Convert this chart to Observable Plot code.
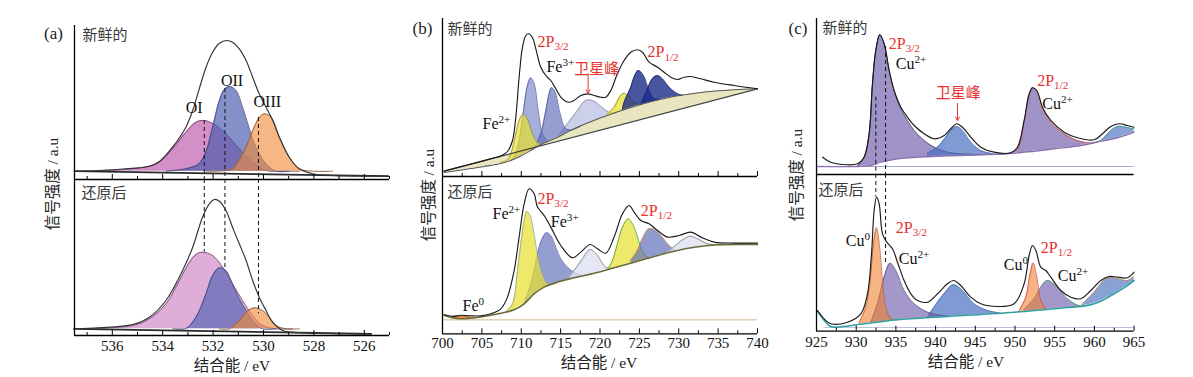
<!DOCTYPE html>
<html><head><meta charset="utf-8">
<script src="https://cdn.jsdelivr.net/npm/d3@7"></script>
<script src="https://cdn.jsdelivr.net/npm/@observablehq/plot@0.6"></script>
<style>
body{margin:0;background:#fff;}
#root{position:relative;width:1193px;height:377px;overflow:hidden;background:#fff;}
.t{position:absolute;white-space:nowrap;transform:translate(-50%,-50%);font-family:"Liberation Serif","Noto Sans CJK SC",serif;color:#222;line-height:1;}
</style></head>
<body><div id="root"></div>
<script>
// ---------------- DATA (binding energy eV, intensity a.u.) ----------------
// Panel (a) O 1s — fresh
const aTopBase = [[537.5,8.3],[525.05,3.3]];
const aTopEnv = [[537.51,8.3],[536.52,9],[535.46,10.7],[534.53,13.3],[534.13,18],[533.61,32.3],[533.08,52.3],[532.81,69],[532.55,90.7],[532.28,112.3],[532.02,127.3],[531.75,136.3],[531.45,139],[531.23,137.3],[530.96,130.7],[530.69,119],[530.43,102.3],[530.17,85.7],[529.9,72.3],[529.63,59],[529.37,42.3],[528.98,22.3],[528.58,10.7],[528.05,5.7],[527.26,4],[525.07,3.3]];
const aTopOI = [[536.5,7.9],[535.46,10.3],[534.53,13.3],[534.13,17.3],[533.61,30.7],[533.08,47.3],[532.68,57.3],[532.35,59],[531.88,54],[531.36,42.3],[530.96,30.7],[530.43,17.3],[529.9,9],[529.24,5.7],[528.58,4.7]];
const aTopOII = [[533.87,6.9],[533.08,10.7],[532.55,16],[532.28,28],[532.02,52.3],[531.75,79],[531.56,89.7],[531.36,93],[531.09,89],[530.83,72.3],[530.56,50.7],[530.3,32.3],[529.9,15.7],[529.5,7.3],[528.98,5]];
const aTopOIII = [[532.28,6.4],[531.88,7.3],[531.23,10.7],[530.96,20],[530.69,32.3],[530.43,49],[530.17,61.7],[529.97,65.7],[529.7,62.3],[529.37,42.3],[528.98,22.3],[528.58,10.7],[528.05,5.7],[527.26,4.3]];
// Panel (a) O 1s — reduced
const aBotBase = [[537.51,6.7],[525.73,1.7]];
const aBotEnv = [[537.51,6.7],[536.52,7.7],[535.19,11],[534.53,18.3],[533.87,35],[533.21,65],[532.81,88.3],[532.42,118.3],[532.15,131.7],[531.95,136],[531.75,134.3],[531.49,125],[531.23,108.3],[530.96,91.7],[530.69,75],[530.43,55],[530.17,38.3],[529.9,25],[529.64,13.3],[529.24,5],[528.58,2.9],[525.73,1.7]];
const aBotOI = [[537.51,6.7],[535.19,10],[534.53,16.7],[533.87,31.7],[533.34,55],[532.94,73.3],[532.68,81],[532.42,83.3],[532.02,80],[531.62,68.3],[531.23,51.7],[530.83,35],[530.43,20],[530.04,10],[529.5,4.5],[528.85,3.1]];
const aBotOII = [[533.6,5.0],[533.08,7],[532.68,18.3],[532.28,41.7],[532.02,60],[531.75,67.7],[531.49,65],[531.23,51.7],[530.96,36.7],[530.69,25],[530.43,15],[530.04,6.5],[529.5,3.5]];
const aBotOIII = [[531.75,4.6],[531.36,6],[530.96,15],[530.69,23.3],[530.37,27.7],[530.04,25],[529.77,18.3],[529.5,10],[529.11,4.5],[528.58,2.9]];
const aDashX = [532.35, 531.53, 530.2];
const aDashTop = [59, 91, 62];
const aDashBot = [83.3, 66.7, 21.7];
const aLabels = [[532.75,72,"OI"],[531.25,99,"OII"],[529.85,78,"OIII"]];
const aMinor = [525,527,529,531,533,535,537];
const aMajor = [526,528,530,532,534,536];

// Panel (b) Fe 2p — fresh
const bTopLin = [[700.2,5.3],[740,87.7]];
const bTopShirley = [[700.2,4],[705.28,10],[707.4,13],[708.67,16],[709.94,20.5],[711.21,26],[712.48,32],[714.17,37.7],[716.71,47.7],[720.1,58.7],[724.33,70],[728.57,78.7],[732.8,84],[737.03,86.7],[740,87.7]];
const bTopEnv = [[700.2,5.5],[703.17,11.5],[705.28,15.9],[706.56,18.7],[707.4,20.5],[708.25,25],[708.89,36],[709.31,59.3],[709.73,99.3],[710.16,129.3],[710.58,141],[710.92,142.7],[711.43,138.7],[711.85,127.7],[712.48,109.3],[713.12,101],[713.75,96],[714.39,87.7],[715.02,79.3],[715.66,75],[716.08,74.3],[716.71,76],[717.56,81],[718.41,82.7],[719.26,81],[720.1,79.3],[720.73,79.3],[721.37,86],[722.21,102.7],[723.06,116],[723.91,124.3],[724.76,126.7],[725.39,124.3],[726.24,114.3],[727.3,109.3],[728.14,104.3],[728.99,99.3],[729.84,97],[730.68,99.3],[731.53,100],[732.8,97.7],[734.49,94.3],[737.03,91],[740,87.7]];
const bTopFe2a = [[707.4,14],[708.25,16.5],[708.67,22.7],[709.31,42.7],[709.73,56],[710.2,62],[710.71,58.7],[711.21,47.7],[711.85,36],[712.48,32]];
const bTopFeA = [[708.67,16],[709.1,19.3],[709.73,36],[710.29,66],[710.79,91],[711.21,98.7],[711.64,92.7],[712.15,66],[712.7,42.7],[713.33,35.5]];
const bTopFeB = [[711.64,28.5],[712.48,42.7],[713.12,66],[713.54,82.7],[713.84,88.7],[714.26,85.3],[714.94,62.7],[715.66,47.7],[716.5,43.5],[717.56,45]];
const bTopSat = [[714.6,39],[715.87,52.7],[717.14,66],[717.98,75],[718.62,76.7],[719.47,74.3],[720.31,68.7],[721.16,64.3],[722.0,63]];
const bTopFe2b = [[720.94,62.5],[721.79,69.3],[722.42,78.7],[722.98,83.3],[723.7,80],[724.33,74.3],[725.18,71.5]];
const bTopFeC = [[722.85,67],[723.06,74],[723.91,89.3],[724.33,99.3],[724.88,106],[725.52,101],[726.24,86],[726.87,77.7],[727.51,77.5]];
const bTopFeD = [[725.18,71.7],[726.03,87.7],[726.66,97.7],[727.3,101],[727.93,97.7],[728.78,89.3],[729.84,82.7],[730.5,81]];
const bTopLabels = [[712.06,135,"2P_{3/2}","red"],[713.2,109.3,"Fe^{3+}","black"],[726.03,124.3,"2P_{1/2}","red"],[705.08,52.7,"Fe^{2+}","black"]];
const bTopSatLabel = [[719.6,107.7,"卫星峰"]];
const bTopArrow = [[718.49,102.7,718.49,83.3]];
// Panel (b) Fe 2p — reduced
const bBotBg = [[700.2,18.3],[701.2,16.2],[702.32,15],[703.5,15.5],[704.86,16.8],[707.4,20.6],[709.1,24],[710.37,30],[711.64,40],[712.91,46.7],[714.6,51.7],[716.71,56],[719.26,60.6],[721.79,66],[724.33,71.6],[726.87,77.3],[729.41,82.6],[731.96,86.6],[734.92,89],[740,89.3]];
const bBotEnv = [[700.2,19.3],[701.2,17.5],[702.32,18.5],[703.5,18],[704.86,17.9],[706.13,20],[707.4,25],[708.25,36.7],[709.1,63.3],[709.73,96.7],[710.37,130],[711.0,145],[711.64,140],[712.06,126.7],[712.91,118.3],[713.75,106.7],[715.02,88.3],[716.5,76],[717.56,81.7],[718.75,89.3],[719.68,85],[720.73,80.6],[721.79,96.7],[722.85,120],[723.7,128.3],[724.33,121.7],[725.18,113.3],[726.24,110],[727.3,103.3],[728.57,96.7],[730.05,98.3],[731.53,101.7],[732.8,96.7],[734.49,91.7],[737.03,90.7],[740,90.7]];
const bBotFe0 = [[701.2,16.2],[701.9,17.4],[702.5,17.8],[703.2,17.2],[703.9,15.8]];
const bBotFe2a = [[708.0,21.8],[708.89,30],[709.52,63.3],[709.94,90],[710.37,113.3],[710.71,122.3],[711.13,118.3],[711.55,103.3],[712.06,80],[712.7,60],[713.33,50],[713.96,48.5]];
const bBotFe3a = [[710.37,30],[711.21,50],[711.85,71.6],[712.48,91.6],[713.2,101],[713.75,98.3],[714.39,86.6],[715.02,75],[715.87,66.6],[716.71,61.6],[717.98,58.3],[719.26,60.6]];
const bBotSat1 = [[715.87,55],[716.71,63.3],[717.77,75],[718.75,84.3],[719.68,78.3],[720.73,66.6],[721.79,66]];
const bBotFe2b = [[720.94,64.2],[721.58,73.3],[722.21,90],[722.85,106.6],[723.61,115],[724.33,106.6],[724.97,91.6],[725.6,80],[726.24,75.5],[726.87,77.3]];
const bBotFe3b = [[723.91,73.3],[724.76,83.3],[725.39,95],[726.24,105],[727.09,103.3],[727.93,96.6],[728.78,88.3],[729.62,83.3]];
const bBotSat2 = [[728.57,81.5],[729.84,90],[730.68,95],[731.45,97.6],[732.38,95],[733.65,90],[735.34,89]];
const bBotFloor = 14;
const bBotLabels = [[702.54,28.3,"Fe^{0}","black"],[706.35,120,"Fe^{2+}","black"],[712.06,135,"2P_{3/2}","red"],[713.75,111.6,"Fe^{3+}","black"],[725.18,123.3,"2P_{1/2}","red"]];
const bMinor = [702.5,707.5,712.5,717.5,722.5,727.5,732.5,737.5];
const bMajor = [700,705,710,715,720,725,730,735,740];

// Panel (c) Cu 2p — fresh
const cTopBg = [[925,8],[930.16,8],[931.84,9],[933.1,12.3],[935.2,15.7],[939.39,18],[945.69,19.7],[949.89,21.3],[952.41,23.3],[954.93,25.7],[958.29,29],[960.81,33.3],[962.91,36.7],[965,42.3]];
const cTopFloor = 8;
const cTopEnv = [[925.76,17.3],[926.8,12.3],[928.9,9.7],[930.16,10.7],[931,17.3],[931.63,40.7],[932.05,90.7],[932.47,124],[932.97,139.7],[933.52,130.7],[934.15,104],[934.78,84],[935.62,67.3],[936.46,57.3],[937.3,49],[938.56,40.7],[939.81,35.7],[941.07,39],[941.91,45.7],[942.63,50.7],[943.38,47.3],[944.43,37.3],[945.69,27.3],[947.37,22.3],[949.47,21.8],[950.31,27.3],[951.15,54],[951.78,80.7],[952.2,86.7],[952.75,84],[953.46,67.3],[954.51,54],[956.19,42.3],[957.87,36.7],[959.97,34.7],[961.02,40.7],[962.07,48],[963.12,50.7],[964.17,49],[965,47.3]];
const cTopCu2a = [[930.16,8.5],[931,17.3],[931.63,40.7],[932.05,90.7],[932.47,124],[932.97,139.7],[933.52,130.7],[934.15,104],[934.78,83.3],[935.62,65.7],[936.46,54],[937.3,44],[938.56,34],[939.81,27.3],[941.49,22.3],[943.59,20.5],[946.53,20],[949.89,21.3]];
const cTopSat = [[938.98,21.5],[940.24,27.3],[941.28,37.3],[942.12,45.7],[942.63,48],[943.38,44],[944.43,32.3],[945.69,24],[947.37,20.3]];
const cTopCu2b = [[949.47,21],[950.31,25.7],[951.15,52.3],[951.78,79],[952.2,86.7],[952.75,83.3],[953.46,65.7],[954.51,52.3],[956.19,40.7],[957.87,34],[959.55,31.5],[960.81,33.3]];
const cTopHump = [[959.55,31],[960.81,34],[961.86,42.3],[962.91,48],[963.96,47.3],[965,45.7]];
const cTopLabels = [[934.1,131,"2P_{3/2}","red"],[934.99,111,"Cu^{2+}","black"],[952.8,94,"2P_{1/2}","red"],[953.43,71,"Cu^{2+}","black"]];
const cTopSatLabel = [[942.86,81,"卫星峰"]];
const cTopArrow = [[942.76,71,942.76,54]];
const cDashX = [932.47, 933.7];
const cDashTop = [77.3, 128];
const cDashBot = [134, 67.3];
// Panel (c) Cu 2p — reduced
const cBotBg = [[925.13,20],[925.96,11],[926.8,4.7],[931,7.4],[935.2,11.4],[941.49,14.7],[949.89,19],[956.19,23.4],[959.13,25.7],[960.81,30],[962.49,37.4],[963.74,43.4],[965,50.7]];
const cBotFloor = 3.7;
const cBotEnv = [[925.13,20.7],[925.96,12.3],[926.8,7.4],[928.9,9],[930.58,17.4],[931.42,37.4],[931.93,77.4],[932.26,120.7],[932.56,134],[932.89,127.4],[933.31,97.4],[933.85,89],[934.57,82.4],[935.2,69],[936.03,50.7],[936.88,37.4],[937.72,30.7],[938.98,29],[940.24,37.4],[941.49,47.4],[942.25,50.7],[943.17,45.7],[944.43,34],[945.69,27.4],[947.8,24.7],[949.89,27.4],[951.15,47.4],[951.78,75.7],[952.2,85.7],[952.63,80.7],[953.25,64],[953.88,60.7],[954.51,54],[955.77,40.7],[957.03,34],[958.29,32.4],[959.55,40.7],[960.81,50.7],[961.86,54.7],[962.91,54],[964.17,53.4],[965,59]];
const cBotCu0a = [[930.37,8.8],[931.21,24],[931.76,50.7],[932.18,87.4],[932.56,103.4],[932.93,85.7],[933.31,50.7],[933.73,24],[934.36,12.4],[935.0,11.2]];
const cBotCu2a = [[931.84,8.5],[932.68,27.4],[933.52,54],[934.27,68],[934.99,60.7],[936.03,40.7],[937.3,27.4],[938.98,19],[940.66,15.7],[942,15]];
const cBotSat = [[938.98,14],[939.81,24],[941.07,37.4],[942.25,46.4],[943.38,40.7],[944.85,27.4],[946.53,20.7],[948.22,18]];
const cBotCu0b = [[950.52,20.7],[951.36,34],[951.9,57.4],[952.29,68],[952.71,55.7],[953.25,30.7],[953.88,21.4]];
const cBotCu2b = [[951.15,21.4],[952.41,32.4],[953.25,44],[954.09,50.7],[955.14,45.7],[956.61,32.4],[958.29,24.5],[959.55,26]];
const cBotHump = [[958.29,25],[959.97,39],[961.65,53.4],[962.91,52.4],[964.17,50.7],[965,54.7]];
const cBotLabels = [[928.69,90.7,"Cu^{0}","black"],[934.99,103.7,"2P_{3/2}","red"],[935.36,72.7,"Cu^{2+}","black"],[948.59,66.7,"Cu^{0}","black"],[953.25,83.7,"2P_{1/2}","red"],[955.39,55.7,"Cu^{2+}","black"]];
const cMinor = [927.5,932.5,937.5,942.5,947.5,952.5,957.5,962.5];
const cMajor = [925,930,935,940,945,950,955,960,965];

// ---------------- RENDERING ----------------
const root = document.getElementById("root");
const SERIF = "'Liberation Serif','Times New Roman',serif";
const CJK = "'Noto Sans CJK SC','Noto Sans',sans-serif";
const RED = "#e8312f";
const C = "catmull-rom";
const rows = a => a.map(([x, y]) => ({x, y}));
function interp(arr, x) {
  if (x <= arr[0][0]) return arr[0][1];
  for (let i = 1; i < arr.length; i++) if (x <= arr[i][0]) {
    const [x0, y0] = arr[i - 1], [x1, y1] = arr[i];
    return y0 + (y1 - y0) * (x - x0) / (x1 - x0);
  }
  return arr[arr.length - 1][1];
}
function peak(arr, bg, fill, op, stroke, sw = 0.8) {
  const r = arr.map(([x, y]) => { const b = interp(bg, x); return {x, y: Math.max(y, b), b}; });
  return [
    Plot.areaY(r, {x: "x", y1: "b", y2: "y", fill, fillOpacity: op, curve: C}),
    Plot.line(r, {x: "x", y: "y", stroke, strokeWidth: sw, curve: C})
  ];
}
function envelope(arr, stroke = "#1a1a1a") {
  return Plot.line(rows(arr), {x: "x", y: "y", stroke, strokeWidth: 1.15, curve: C});
}
function labels(arr, fontSize = 16, anchor = "start") {
  const r = arr.map(([x, y, text, c]) => ({x, y, text, c: c === "red" ? RED : "#111"}));
  return Plot.text(r, {x: "x", y: "y", text: "text", fill: "c", fontSize, fontFamily: SERIF, textAnchor: anchor});
}
function cjkLabel(arr) {
  const r = arr.map(([x, y, text]) => ({x, y, text}));
  return Plot.text(r, {x: "x", y: "y", text: "text", fill: RED, fontSize: 15, fontFamily: CJK});
}
function arrow(arr) {
  const r = arr.map(([x1, y1, x2, y2]) => ({x1, y1, x2, y2}));
  return Plot.arrow(r, {x1: "x1", y1: "y1", x2: "x2", y2: "y2", stroke: RED, strokeWidth: 1, headLength: 6});
}
function state(text, dx, dy) {
  return Plot.text([text], {text: d => d, frameAnchor: "top-left", dx, dy, textAnchor: "start", lineAnchor: "middle", fontFamily: CJK, fontSize: 15, fill: "#3a3a3a"});
}
function axes(xd, H, {minor = [], major = [], ticks = true, labels = false, pad = 4}) {
  const ms = [
    Plot.ruleY([0], {x1: xd[0], x2: xd[1], stroke: "#000", strokeWidth: 1.3}),
    Plot.ruleX([xd[0]], {y1: 0, y2: H, stroke: "#000", strokeWidth: 1.3})
  ];
  if (ticks) {
    ms.push(Plot.ruleX(minor, {y1: 0, y2: 3, stroke: "#000", strokeWidth: 1}));
    ms.push(Plot.ruleX(major, {y1: 0, y2: 5, stroke: "#000", strokeWidth: 1}));
  }
  if (labels) ms.push(Plot.axisX(major, {tickSize: 0, tickPadding: pad, fontSize: 15, label: null, tickFormat: d => String(d)}));
  return ms;
}
function dashes(xs, y1s, y2s) {
  const r = xs.map((x, i) => ({x, y1: y1s[i], y2: y2s[i]}));
  return Plot.ruleX(r, {x: "x", y1: "y1", y2: "y2", stroke: "#111", strokeWidth: 1, strokeDasharray: "4,3"});
}
function richify(svg) {
  svg.querySelectorAll("text").forEach(t => {
    const s = t.textContent;
    if (!/[\^_]\{/.test(s)) return;
    while (t.firstChild) t.removeChild(t.firstChild);
    const re = /([\^_])\{([^}]*)\}/g;
    let last = 0, m, shift = 0;
    const NS = "http://www.w3.org/2000/svg";
    while ((m = re.exec(s))) {
      if (m.index > last) {
        const ts = document.createElementNS(NS, "tspan");
        ts.textContent = s.slice(last, m.index);
        if (shift) { ts.setAttribute("dy", (-shift) + "px"); shift = 0; }
        t.appendChild(ts);
      }
      const ts = document.createElementNS(NS, "tspan");
      const d = m[1] === "^" ? -6 : 3.5;
      ts.setAttribute("dy", d + "px");
      ts.style.fontSize = "70%";
      ts.textContent = m[2];
      shift = d;
      t.appendChild(ts);
      last = re.lastIndex;
    }
    if (last < s.length) {
      const ts = document.createElementNS(NS, "tspan");
      ts.textContent = s.slice(last);
      if (shift) ts.setAttribute("dy", (-shift) + "px");
      t.appendChild(ts);
    }
  });
}
function sub(L, T, W, H, xd, mb, marks) {
  const ml = 10, mr = 14, mt = 8;
  const svg = Plot.plot({
    width: W + ml + mr, height: H + mt + mb,
    marginLeft: ml, marginRight: mr, marginTop: mt, marginBottom: mb,
    x: {domain: xd, axis: null}, y: {domain: [0, H], axis: null},
    style: {background: "transparent", overflow: "visible", fontFamily: SERIF, fontSize: "15px", color: "#111"},
    marks
  });
  richify(svg);
  const div = document.createElement("div");
  div.style.cssText = `position:absolute;left:${L - ml}px;top:${T - mt}px;width:${W + ml + mr}px;`;
  div.appendChild(svg);
  root.appendChild(div);
}
function html(txt, x, y, size, rot = 0) {
  const d = document.createElement("div");
  d.className = "t";
  d.textContent = txt;
  d.style.left = x + "px"; d.style.top = y + "px"; d.style.fontSize = size + "px";
  if (rot) d.style.transform = `translate(-50%,-50%) rotate(${rot}deg)`;
  root.appendChild(d);
}

// ---- Panel (a)
const aX = [537.5, 525];
const PINK = "#c060b0", BLUE = "#4a5cae", ORANGE = "#f08a3a";
sub(74, 25, 315, 154, aX, 8, [
  ...peak(aTopOI, aTopBase, PINK, 0.7, "#6a3a66"),
  ...peak(aTopOII, aTopBase, BLUE, 0.68, "#3a4070"),
  ...peak(aTopOIII, aTopBase, ORANGE, 0.62, "#7a5030"),
  Plot.line(rows(aTopBase), {x: "x", y: "y", stroke: "#2a2a2a", strokeWidth: 1.8}),
  envelope(aTopEnv, "#333"),
  dashes(aDashX, aDashTop, aDashX.map(() => 0)),
  labels(aLabels.map(([x, y, t]) => [x, y, t, "black"]), 16, "middle"),
  ...axes(aX, 154, {minor: aMinor, major: aMajor}),
  state("新鲜的", 8, 10)
]);
sub(74, 179, 315, 156, aX, 30, [
  ...peak(aBotOI, aBotBase, "#c878c0", 0.6, "#6a3a66"),
  ...peak(aBotOII, aBotBase, BLUE, 0.62, "#3a4070"),
  ...peak(aBotOIII, aBotBase, ORANGE, 0.62, "#7a5030"),
  Plot.line(rows(aBotBase), {x: "x", y: "y", stroke: "#2a2a2a", strokeWidth: 1.8}),
  envelope(aBotEnv, "#333"),
  dashes(aDashX, aDashX.map(() => 156), aDashBot),
  ...axes(aX, 156, {minor: aMinor, major: aMajor, labels: true, pad: 5}),
  state("还原后", 7, 14)
]);

// ---- Panel (b)
const bX = [700, 740];
const YEL = "#e8e030", BLU2 = "#5a6cb8", DBLU = "#1a2a8a", LAV = "#c4c8e6";
const wedge = bTopShirley.map(([x, s]) => { const l = interp(bTopLin, x); return {x, lo: Math.min(s, l), hi: Math.max(s, l)}; });
sub(441.7, 18, 315, 158, bX, 8, [
  Plot.areaY(wedge, {x: "x", y1: "lo", y2: "hi", fill: "#e9e6bf", curve: "linear"}),
  ...peak(bTopSat, bTopShirley, LAV, 0.85, "#8a8a9a"),
  ...peak(bTopFeA, bTopShirley, "#6a7ac0", 0.6, "#4a5a9a"),
  ...peak(bTopFeB, bTopShirley, "#5a6ab8", 0.65, "#4a5a9a"),
  ...peak(bTopFe2a, bTopShirley, YEL, 0.7, "#8a8a40"),
  ...peak(bTopFe2b, bTopShirley, YEL, 0.75, "#8a8a40"),
  ...peak(bTopFeC, bTopShirley, DBLU, 0.8, "#1a2a6a"),
  ...peak(bTopFeD, bTopShirley, DBLU, 0.8, "#1a2a6a"),
  Plot.line(rows(bTopLin), {x: "x", y: "y", stroke: "#444", strokeWidth: 1.2}),
  Plot.line(rows(bTopShirley), {x: "x", y: "y", stroke: "#555", strokeWidth: 1.1, curve: C}),
  envelope(bTopEnv),
  labels(bTopLabels, 16),
  cjkLabel(bTopSatLabel),
  arrow(bTopArrow),
  ...axes(bX, 158, {minor: bMinor, major: bMajor}),
  state("新鲜的", 5, 11)
]);
sub(441.7, 176, 315, 157.3, bX, 30, [
  Plot.ruleY([bBotFloor], {x1: 700.2, x2: 740, stroke: "#e2d2b0", strokeWidth: 1.5}),
  ...peak(bBotFe0, bBotBg, "#f07a30", 0.8, "#c06020"),
  ...peak(bBotFe3a, bBotBg, BLU2, 0.65, "#6a6ab0"),
  ...peak(bBotFe2a, bBotBg, YEL, 0.72, "#8aa0a0"),
  ...peak(bBotSat1, bBotBg, "#dfe1f2", 0.8, "#777"),
  ...peak(bBotFe2b, bBotBg, YEL, 0.72, "#3aa040"),
  ...peak(bBotFe3b, bBotBg, BLU2, 0.68, "#d09040"),
  ...peak(bBotSat2, bBotBg, "#dfe1f2", 0.8, "#777"),
  Plot.line(rows(bBotBg), {x: "x", y: "y", stroke: "#6b6a3a", strokeWidth: 1.6, curve: C}),
  envelope(bBotEnv),
  labels(bBotLabels, 16),
  ...axes(bX, 157.3, {minor: bMinor, major: bMajor, labels: true, pad: 4}),
  state("还原后", 5, 16)
]);

// ---- Panel (c)
const cX = [925, 965];
const PUR = "#6a58a8", SBLU = "#4a70c0", ORG2 = "#f08030";
sub(815.7, 18, 317.6, 156, cX, 8, [
  Plot.ruleY([cTopFloor], {x1: 925.76, x2: 965, stroke: "#a8a8dc", strokeWidth: 1.2}),
  ...peak(cTopCu2a, cTopBg, PUR, 0.65, "#3a3060"),
  ...peak(cTopSat, cTopBg, SBLU, 0.7, "#4a6ab0"),
  ...peak(cTopCu2b, cTopBg, PUR, 0.65, "#e04040"),
  ...peak(cTopHump, cTopBg, SBLU, 0.65, "#3aa080"),
  Plot.line(rows(cTopBg), {x: "x", y: "y", stroke: "#8a70b0", strokeWidth: 1.4, curve: C}),
  envelope(cTopEnv),
  dashes(cDashX, cDashTop, cDashX.map(() => 0)),
  labels(cTopLabels, 16),
  cjkLabel(cTopSatLabel),
  arrow(cTopArrow),
  ...axes(cX, 156, {ticks: false}),
  state("新鲜的", 6, 10)
]);
sub(815.7, 174, 317.6, 156.7, cX, 30, [
  Plot.ruleY([cBotFloor], {x1: 925.96, x2: 965, stroke: "#c0c0dc", strokeWidth: 1.2}),
  ...peak(cBotSat, cBotBg, SBLU, 0.7, "#4a6ab0"),
  ...peak(cBotCu2a, cBotBg, PUR, 0.62, "#5a4a90"),
  ...peak(cBotCu0a, cBotBg, ORG2, 0.6, "#c06030"),
  ...peak(cBotCu2b, cBotBg, PUR, 0.62, "#3aa060"),
  ...peak(cBotCu0b, cBotBg, ORG2, 0.6, "#e04040"),
  ...peak(cBotHump, cBotBg, SBLU, 0.65, "#c09040"),
  Plot.line(rows(cBotBg), {x: "x", y: "y", stroke: "#30a0a0", strokeWidth: 1.6, curve: C}),
  envelope(cBotEnv),
  dashes(cDashX, cDashX.map(() => 156.7), cDashBot),
  labels(cBotLabels, 16),
  ...axes(cX, 156.7, {minor: cMinor, major: cMajor, labels: true, pad: 5}),
  state("还原后", 2, 16)
]);

// ---- HTML titles
html("(a)", 53.5, 33, 17);
html("(b)", 422.5, 28, 17);
html("(c)", 798, 28, 17);
html("信号强度 / a.u", 53, 183.5, 15.5, -90);
html("信号强度 / a.u", 429, 194.5, 15.5, -90);
html("信号强度 / a.u", 797, 175, 15.5, -90);
html("结合能 / eV", 232, 366, 15.5);
html("结合能 / eV", 599, 363, 15.5);
html("结合能 / eV", 966, 362, 15.5);
</script>
</body></html>
